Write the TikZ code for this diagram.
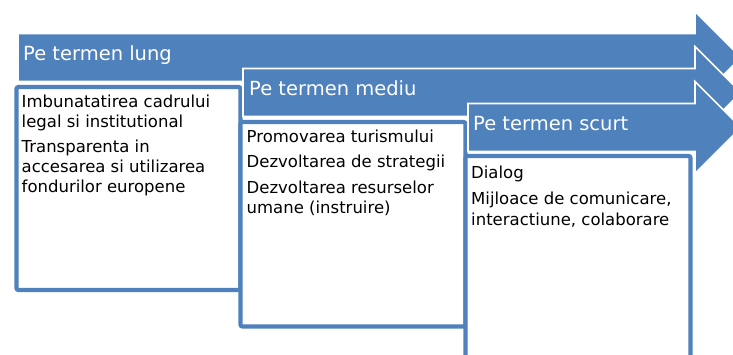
\documentclass[tikz,border=0pt]{standalone}
\usepackage{fontspec}
\setmainfont{DejaVu Sans}
\usepackage{tikz}
\usetikzlibrary{positioning}
\definecolor{barblue}{HTML}{4F81BD}
\tikzset{bar/.style={fill=barblue, draw=white, line width=1.6pt, line join=miter},
	itembox/.style={draw=barblue, fill=white, line width=4.2pt, rounded corners=2pt},
	head/.style={anchor=base west, inner sep=0pt, text=white, font=\fontsize{19.5}{23}\selectfont},
	items/.style={anchor=base west, inner sep=0pt, align=left, font=\fontsize{16.5}{20.3}\selectfont}}

\begin{document}
\begin{tikzpicture}[x=1pt,y=-1pt]
		\clip (0,0) rectangle (733,354);
		\useasboundingbox (0,0) rectangle (733,354);
		\draw[bar] (18,33.5) -- (695,33.5) -- (695,11.5) -- (741,57.5) -- (695,103.5) -- (695,81.5) -- (18,81.5) -- cycle;
		\node[head] (lung) at (23,60.7) {Pe termen lung};
		\draw[itembox] (16.5,87) rectangle (240.5,290);
		\node[items] (lungitems) at (21.5,192.7) {Imbunatatirea cadrului\\legal si institutional\\[4pt]Transparenta in\\accesarea si utilizarea\\fondurilor europene};
		\draw[bar] (243,68.5) -- (695,68.5) -- (695,46.5) -- (741,92.5) -- (695,138.5) -- (695,116.5) -- (243,116.5) -- cycle;
		\node[head] (mediu) at (249,95) {Pe termen mediu};
		\draw[itembox] (240.5,122) rectangle (465.5,326.5);
		\node[items] (mediuitems) at (246.5,213.3) {Promovarea turismului\\[4.8pt]Dezvoltarea de strategii\\[5pt]Dezvoltarea resurselor\\umane (instruire)};
		\draw[bar] (468,103.5) -- (695,103.5) -- (695,81.5) -- (741,127.5) -- (695,173.5) -- (695,151.5) -- (468,151.5) -- cycle;
		\node[head] (scurt) at (473,130) {Pe termen scurt};
		\draw[itembox] (465.5,156) rectangle (690.5,365);
		\node[items] (scurtitems) at (471,225) {Dialog\\[5.5pt]Mijloace de comunicare,\\interactiune, colaborare};
		\end{tikzpicture}
\end{document}
